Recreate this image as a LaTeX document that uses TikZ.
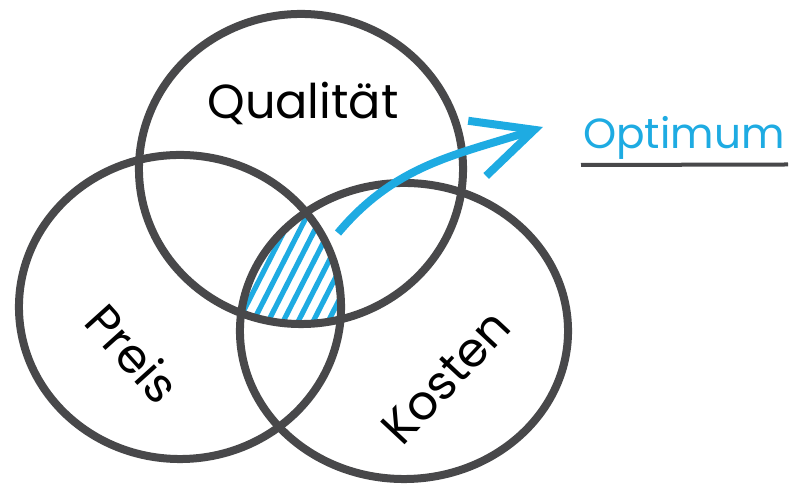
\documentclass[tikz,border=0pt]{standalone}
\usepackage{fontspec}
\setmainfont{Poppins}
\usetikzlibrary{arrows.meta,shapes.geometric,backgrounds}
\definecolor{ringgray}{RGB}{72,72,74}
\definecolor{optblue}{RGB}{30,171,226}
\tikzset{
  ring/.style={draw=ringgray, line width=0.2cm, ellipse, inner sep=0pt},
  setlabel/.style={inner sep=0pt, font=\fontsize{34}{40}\selectfont},
  stripe/.style={optblue, line width=0.13cm},
  pointer/.style={optblue, line width=0.2cm, -{Straight Barb[length=1.5cm, width=1.45cm]}}
}
\begin{document}
\begin{tikzpicture}[x=0.025cm, y=0.025cm]
      \useasboundingbox (0,0) rectangle (792,485);
      \node (qual) [ring, minimum width=8.1cm, minimum height=7.75cm] at (301,316) {};
      \node (preis) [ring, minimum width=8.05cm, minimum height=7.6cm] at (180,178) {};
      \node (kosten) [ring, minimum width=8.2cm, minimum height=7.4cm] at (404,154) {};
      \begin{scope}[on background layer]
        \clip (qual.center) ellipse [x radius=4.05cm, y radius=3.875cm];
        \clip (preis.center) ellipse [x radius=4.025cm, y radius=3.8cm];
        \clip (kosten.center) ellipse [x radius=4.1cm, y radius=3.7cm];
        \foreach \x in {126,141,...,366}
          \draw [stripe] (\x,120) -- ++(63:250);
      \end{scope}
      \node (lqual) [setlabel] at (303,382) {Qualität};
      \node (lpreis) [setlabel, rotate=-48] at (133,132) {Preis};
      \node (lkosten) [setlabel, rotate=47] at (446,108) {Kosten};
      \node (opt) [anchor=base west, inner sep=0pt, text=optblue, font=\fontsize{30}{36}\selectfont] at (583,336) {Optimum};
      \draw [ringgray, line width=0.1cm] ([shift={(-0.05cm,-0.4cm)}]opt.base west) -- (788,320.5);
      \coordinate (from) at (338,252);
      \coordinate (to) at (543,358);
      \draw [pointer] (from) to [out=50, in=198] (to);
  \end{tikzpicture}
\end{document}
